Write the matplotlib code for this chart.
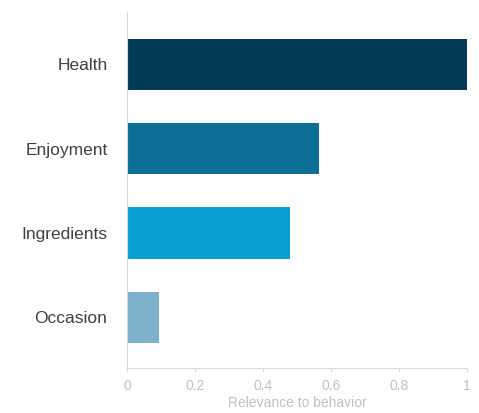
import matplotlib
matplotlib.use("Agg")
import matplotlib.pyplot as plt

categories = ["Health", "Enjoyment", "Ingredients", "Occasion"]
values = [1.0, 0.565, 0.48, 0.094]
colors = ["#033a56", "#0b6f96", "#0b9fd2", "#7fb0cc"]
xticks = [0, 0.2, 0.4, 0.6, 0.8, 1]
xticklabels = ["0", "0.2", "0.4", "0.6", "0.8", "1"]

plt.rcParams['font.family'] = ['Liberation Sans', 'DejaVu Sans']
fig = plt.figure(figsize=(4.79, 4.13), dpi=100)
ax = fig.add_axes([0.265, 0.109, 0.71, 0.862])
ypos = list(range(len(categories)))
ax.barh(ypos, values, height=0.61, color=colors)
ax.set_ylim(3.6, -0.62)
ax.set_xlim(0, 1)
ax.set_yticks(ypos)
ax.set_yticklabels(categories, fontsize=12.5, color="#404040")
ax.tick_params(axis='y', length=0, pad=14)
ax.set_xticks(xticks)
ax.set_xticklabels(xticklabels, fontsize=10, color="#c0c0c0")
ax.tick_params(axis='x', length=3, color="#d9d9d9", pad=5)
ax.set_xlabel("Relevance to behavior", fontsize=10, color="#c0c0c0", labelpad=2)
for s in ["top", "right"]:
    ax.spines[s].set_visible(False)
for s in ["left", "bottom"]:
    ax.spines[s].set_color("#d9d9d9")
fig.savefig("out.png", dpi=100, facecolor="white")
